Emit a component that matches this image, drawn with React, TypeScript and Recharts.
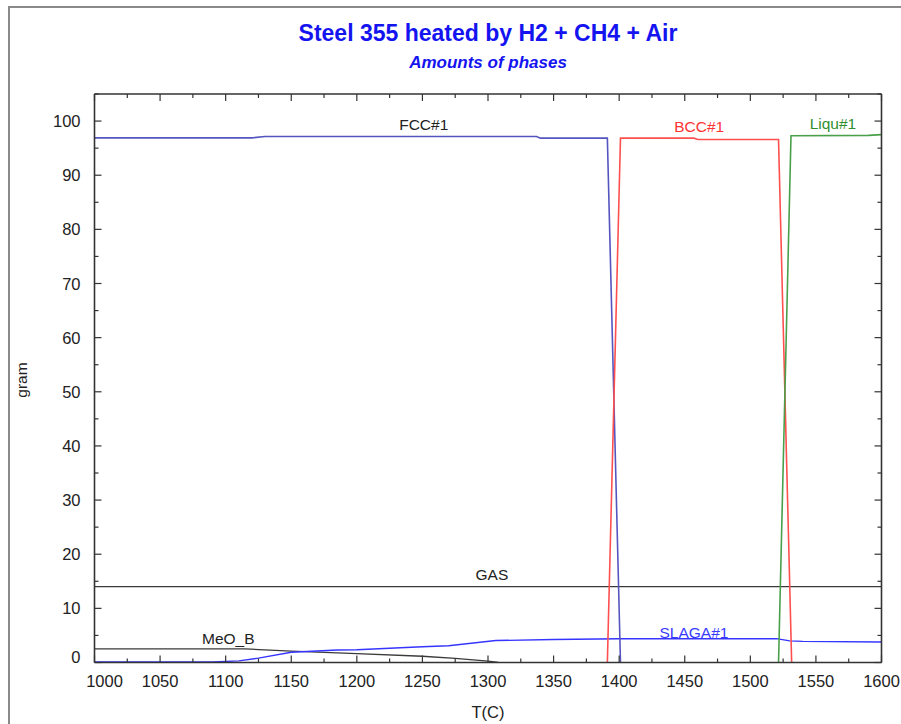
import React from 'react';
import { LineChart, Line, XAxis, YAxis, ReferenceDot } from 'recharts';

// ---- data ----
const fccT = [1000, 1120, 1130, 1337, 1340, 1391, 1401];
const fccAmount = [96.9, 96.9, 97.15, 97.15, 96.85, 96.85, 0];

const bccT = [1391, 1401, 1457, 1460, 1521.5, 1531.5];
const bccAmount = [0, 96.85, 96.85, 96.6, 96.6, 0];

const liqT = [1521.5, 1531, 1590, 1600];
const liqAmount = [0, 97.3, 97.35, 97.5];

const gasT = [1000, 1600];
const gasAmount = [14, 14];

const meoT = [1000, 1115, 1150, 1200, 1250, 1275, 1300, 1308];
const meoAmount = [2.5, 2.5, 2.1, 1.65, 1.15, 0.75, 0.25, 0];

const slagT = [1000, 1090, 1110, 1125, 1150, 1185, 1200, 1250, 1270, 1306, 1350, 1400, 1520, 1530, 1540, 1600];
const slagAmount = [0.1, 0.1, 0.3, 0.8, 1.9, 2.3, 2.35, 2.9, 3.1, 4.05, 4.25, 4.4, 4.4, 4.0, 3.9, 3.8];

const xTicks = Array.from({ length: 25 }, (_, i) => 1000 + i * 25);
const yTicks = Array.from({ length: 22 }, (_, i) => i * 5);

const phaseLabels = [
  { name: 'FCC#1', t: 1251, v: 99.4, color: '#222222' },
  { name: 'BCC#1', t: 1461, v: 99.0, color: '#ff3333' },
  { name: 'Liqu#1', t: 1563, v: 99.6, color: '#2f8f2f' },
  { name: 'GAS', t: 1303, v: 16.2, color: '#222222' },
  { name: 'MeO_B', t: 1102, v: 4.5, color: '#222222' },
  { name: 'SLAGA#1', t: 1457, v: 5.6, color: '#3a3aff' },
];

const zip = (t: number[], v: number[]) => t.map((x, i) => ({ t: x, v: v[i] }));

const FONT = '"Liberation Sans", Arial, sans-serif';
const AX = '#333333';

const XTickBottom = (props: any) => {
  const { x, y, payload } = props;
  const v = payload.value;
  const major = v % 50 === 0;
  return (
    <g>
      <line x1={x} y1={y} x2={x} y2={y - (major ? 7 : 4)} stroke={AX} strokeWidth={1.2} />
      {major && (
        <text x={v === 1000 ? x + 10 : x} y={y + 18} textAnchor="middle" dominantBaseline="central"
          fontFamily={FONT} fontSize={16.5} fill="#222">{v}</text>
      )}
    </g>
  );
};

const XTickTop = (props: any) => {
  const { x, y, payload } = props;
  const major = payload.value % 50 === 0;
  return <line x1={x} y1={y} x2={x} y2={y + (major ? 7 : 4)} stroke={AX} strokeWidth={1.2} />;
};

const YTickLeft = (props: any) => {
  const { x, y, payload } = props;
  const v = payload.value;
  const major = v % 10 === 0;
  return (
    <g>
      <line x1={x} y1={y} x2={x + (major ? 7 : 4)} y2={y} stroke={AX} strokeWidth={1.2} />
      {major && (
        <text x={x - 14} y={v === 0 ? y - 6 : y} textAnchor="end" dominantBaseline="central"
          fontFamily={FONT} fontSize={16.5} fill="#222">{v}</text>
      )}
    </g>
  );
};

const YTickRight = (props: any) => {
  const { x, y, payload } = props;
  const major = payload.value % 10 === 0;
  return <line x1={x} y1={y} x2={x - (major ? 7 : 4)} y2={y} stroke={AX} strokeWidth={1.2} />;
};

export default function App() {
  return (
    <div style={{ position: 'absolute', left: 0, top: 0, width: 901, height: 724, overflow: 'hidden', background: '#fff' }}>
      <div style={{ position: 'absolute', left: 8, top: 6, width: 1000, height: 1000, borderLeft: '2px solid #8a8a8a', borderTop: '2px solid #8a8a8a' }} />
      <div style={{ position: 'absolute', left: 0, top: 0 }}>
        <LineChart width={901} height={724} margin={{ top: 84, right: 9.5, bottom: 21.5, left: 34.5 }}>
          <XAxis xAxisId="b" dataKey="t" type="number" domain={[1000, 1600]} ticks={xTicks} interval={0}
            height={40} tickSize={0} tickMargin={0} tickLine={false} tick={<XTickBottom />}
            axisLine={{ stroke: AX, strokeWidth: 1.6 }} allowDataOverflow />
          <XAxis xAxisId="t" orientation="top" dataKey="t" type="number" domain={[1000, 1600]} ticks={xTicks} interval={0}
            height={10} tickSize={0} tickMargin={0} tickLine={false} tick={<XTickTop />}
            axisLine={{ stroke: AX, strokeWidth: 1.6 }} allowDataOverflow />
          <YAxis yAxisId="l" type="number" domain={[0, 105]} ticks={yTicks} interval={0}
            width={60} tickSize={0} tickMargin={0} tickLine={false} tick={<YTickLeft />}
            axisLine={{ stroke: AX, strokeWidth: 1.6 }} allowDataOverflow />
          <YAxis yAxisId="r" orientation="right" type="number" domain={[0, 105]} ticks={yTicks} interval={0}
            width={10} tickSize={0} tickMargin={0} tickLine={false} tick={<YTickRight />}
            axisLine={{ stroke: AX, strokeWidth: 1.6 }} allowDataOverflow />

          <Line xAxisId="b" yAxisId="l" data={zip(gasT, gasAmount)} dataKey="v" type="linear" stroke="#3a3a3a" strokeWidth={1.3} dot={false} isAnimationActive={false} />
          <Line xAxisId="b" yAxisId="l" data={zip(meoT, meoAmount)} dataKey="v" type="linear" stroke="#3a3a3a" strokeWidth={1.3} dot={false} isAnimationActive={false} />
          <Line xAxisId="b" yAxisId="l" data={zip(slagT, slagAmount)} dataKey="v" type="linear" stroke="#3535ff" strokeWidth={1.4} dot={false} isAnimationActive={false} />
          <Line xAxisId="b" yAxisId="l" data={zip(fccT, fccAmount)} dataKey="v" type="linear" stroke="#5555c0" strokeWidth={1.6} dot={false} isAnimationActive={false} />
          <Line xAxisId="b" yAxisId="l" data={zip(bccT, bccAmount)} dataKey="v" type="linear" stroke="#ff4f4f" strokeWidth={1.6} dot={false} isAnimationActive={false} />
          <Line xAxisId="b" yAxisId="l" data={zip(liqT, liqAmount)} dataKey="v" type="linear" stroke="#4aa04a" strokeWidth={1.6} dot={false} isAnimationActive={false} />

          {phaseLabels.map((p) => (
            <ReferenceDot key={p.name} xAxisId="b" yAxisId="l" x={p.t} y={p.v} r={0} ifOverflow="visible"
              shape={(s: any) => (
                <text x={s.cx} y={s.cy} textAnchor="middle" dominantBaseline="central" fontFamily={FONT} fontSize={15.5} fill={p.color}>{p.name}</text>
              )} />
          ))}
        </LineChart>
      </div>
      <div style={{ position: 'absolute', left: 0, width: 976, top: 21, lineHeight: '24px', textAlign: 'center', fontFamily: FONT, fontWeight: 'bold', fontSize: 23, color: '#1414f0' }}>
        Steel 355 heated by H2 + CH4 + Air
      </div>
      <div style={{ position: 'absolute', left: 0, width: 976, top: 53, lineHeight: '20px', textAlign: 'center', fontFamily: FONT, fontWeight: 'bold', fontStyle: 'italic', fontSize: 17, color: '#1414f0' }}>
        Amounts of phases
      </div>
      <div style={{ position: 'absolute', left: 438, width: 100, top: 702, lineHeight: '20px', textAlign: 'center', fontFamily: FONT, fontSize: 16.5, color: '#222' }}>
        T(C)
      </div>
      <div style={{ position: 'absolute', left: -28, width: 100, top: 370, lineHeight: '20px', textAlign: 'center', fontFamily: FONT, fontSize: 15.5, color: '#222', transform: 'rotate(-90deg)' }}>
        gram
      </div>
    </div>
  );
}
